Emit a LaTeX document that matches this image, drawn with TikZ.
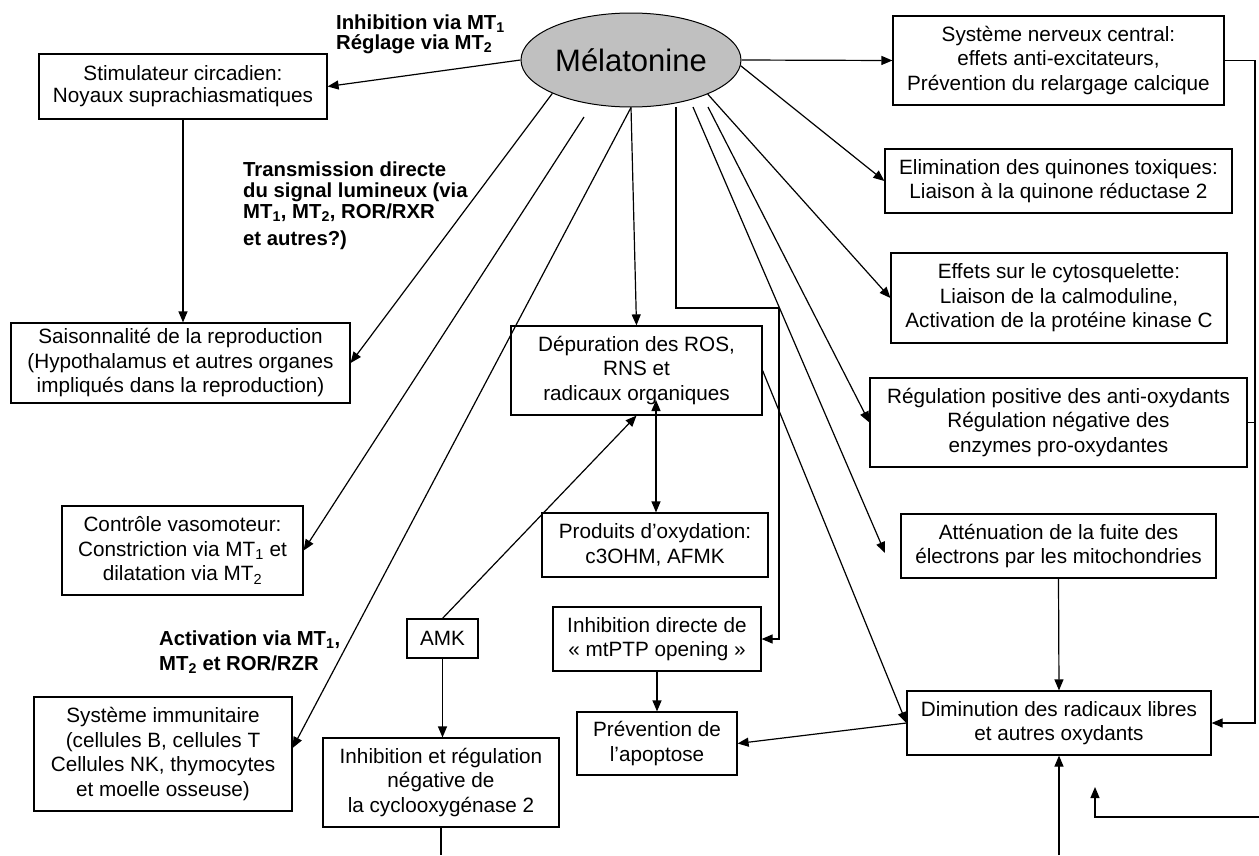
\documentclass[tikz,border=0pt]{standalone}
\usepackage{fontspec}
\setmainfont{Liberation Sans}
\usetikzlibrary{arrows.meta,shapes.geometric}
\definecolor{mgray}{RGB}{192,192,192}
\begin{document}
\begin{tikzpicture}[x=1pt,y=-1pt,
  box/.style={draw, fill=white, line width=1.2pt, inner sep=0pt, align=center,
    font=\fontsize{20.7}{24.5}\selectfont},
  conn/.style={line width=1.2pt},
  arr/.style={conn, -{Triangle[length=11pt,width=9pt]}},
  darr/.style={conn, {Triangle[length=11pt,width=9pt]}-{Triangle[length=11pt,width=9pt]}},
  lab/.style={anchor=base west, inner sep=0pt, font=\fontsize{20.3}{20}\selectfont\bfseries}]
\useasboundingbox (0,0) rectangle (1259,855);

% central node
\node[ellipse, draw, fill=mgray, line width=1pt, minimum width=220pt, minimum height=94pt,
  inner sep=0pt, font=\fontsize{31}{36}\selectfont] (mel) at (631,60) {Mélatonine};

% left column
\node[box, minimum width=288pt, minimum height=65pt, font=\fontsize{20.7}{22}\selectfont] (stim) at (183,86.5)
  {Stimulateur circadien:\\Noyaux suprachiasmatiques};
\node[box, minimum width=339pt, minimum height=80pt] (sais) at (180.5,363)
  {Saisonnalité de la reproduction\\(Hypothalamus et autres organes\\impliqués dans la reproduction)};
\node[box, minimum width=241pt, minimum height=89pt] (vaso) at (182.5,550.5)
  {Contrôle vasomoteur:\\Constriction via MT\textsubscript{1} et\\dilatation via MT\textsubscript{2}};
\node[box, minimum width=258pt, minimum height=114pt] (immu) at (163,754)
  {Système immunitaire\\(cellules B, cellules T\\Cellules NK, thymocytes\\et moelle osseuse)};

% middle column
\node[box, minimum width=251pt, minimum height=89pt] (dep) at (636.5,370.5)
  {Dépuration des ROS,\\RNS et\\radicaux organiques};
\node[box, minimum width=226pt, minimum height=64pt] (prod) at (655,545)
  {Produits d’oxydation:\\c3OHM, AFMK};
\node[box, minimum width=71pt, minimum height=39pt] (amk) at (442.5,638.5) {AMK};
\node[box, minimum width=208pt, minimum height=64pt] (inhd) at (657,639)
  {Inhibition directe de\\«~mtPTP opening~»};
\node[box, minimum width=160pt, minimum height=63pt] (prev) at (657,743.5)
  {Prévention de\\l’apoptose};
\node[box, minimum width=236pt, minimum height=89pt] (cox) at (441,782.5)
  {Inhibition et régulation\\négative de\\la cyclooxygénase 2};

% right column
\node[box, minimum width=331pt, minimum height=89pt] (snc) at (1058.5,60.5)
  {Système nerveux central:\\effets anti-excitateurs,\\Prévention du relargage calcique};
\node[box, minimum width=347pt, minimum height=64pt] (elim) at (1058.5,181)
  {Elimination des quinones toxiques:\\Liaison à la quinone réductase 2};
\node[box, minimum width=336pt, minimum height=90pt] (cyto) at (1059,298)
  {Effets sur le cytosquelette:\\Liaison de la calmoduline,\\Activation de la protéine kinase C};
\node[box, minimum width=377pt, minimum height=89pt] (regu) at (1058.5,422.5)
  {Régulation positive des anti-oxydants\\Régulation négative des\\enzymes pro-oxydantes};
\node[box, minimum width=315pt, minimum height=64pt] (atte) at (1058.5,546)
  {Atténuation de la fuite des\\électrons par les mitochondries};
\node[box, minimum width=304pt, minimum height=64pt] (dimi) at (1059,723)
  {Diminution des radicaux libres\\et autres oxydants};

% bold labels
\node[lab] (l1a) at (336,29) {Inhibition via MT\textsubscript{1}};
\node[lab] (l1b) at (336,49) {Réglage via MT\textsubscript{2}};
\node[lab] (l2a) at (243,176) {Transmission directe};
\node[lab] (l2b) at (243,197) {du signal lumineux (via};
\node[lab] (l2c) at (243,218) {MT\textsubscript{1}, MT\textsubscript{2}, ROR/RXR};
\node[lab] (l2d) at (243,245) {et autres?)};
\node[lab] (l3a) at (159,645) {Activation via MT\textsubscript{1},};
\node[lab] (l3b) at (159,670) {MT\textsubscript{2} et ROR/RZR};

% free coordinates
\coordinate (s2) at (584,117);
\coordinate (s5) at (676,107);
\coordinate (k5) at (779,308);
\coordinate (s6) at (693,107);
\coordinate (e6) at (885,553);
\coordinate (s7) at (708,107);
\coordinate (rr) at (1255,60.5);
\coordinate (b1) at (1059,855);
\coordinate (b2) at (1259,817);
\coordinate (b3) at (1095,787);
\coordinate (d1) at (656,400);

% connectors from melatonin
\draw[arr] (mel.west) -- (stim.east);
\draw[arr] (mel.203.6) -- (sais.east);
\draw[arr] (s2) -- (vaso.east);
\draw[arr] (mel.south) -- ([yshift=6pt]immu.east);
\draw[arr] (mel.south) -- (dep.north);
\draw[arr] (s5) |- (k5) |- (inhd.east);
\draw[arr] (s6) -- (e6);
\draw[arr] (s7) -- (regu.west);
\draw[arr] (mel.-24.4) -- (cyto.west);
\draw[arr] (mel.-3) -- (elim.west);
\draw[arr] (mel.east) -- (snc.west);

% other connectors
\draw[arr] (stim.south) -- (stim.south |- sais.north);
\draw[arr] (amk.north) -- (dep.south);
\draw[arr] (amk.south) -- (amk.south |- cox.north);
\draw[conn] (cox.south) -- (cox.south |- b1);
\draw[darr] (d1) -- (d1 |- prod.north);
\draw[arr] (inhd.south) -- (prev.north);
\draw[arr] (dep.east) -- (dimi.west);
\draw[arr] (dimi.west) -- (prev.east);
\draw[arr] (atte.south) -- (dimi.north);
\draw[arr] (snc.east) -- (rr) |- (dimi.east);
\draw[conn] (regu.east) -- (regu.east -| rr);
\draw[arr] (b1) -- (dimi.south);
\draw[arr] (b2) -| (b3);
\end{tikzpicture}
\end{document}
